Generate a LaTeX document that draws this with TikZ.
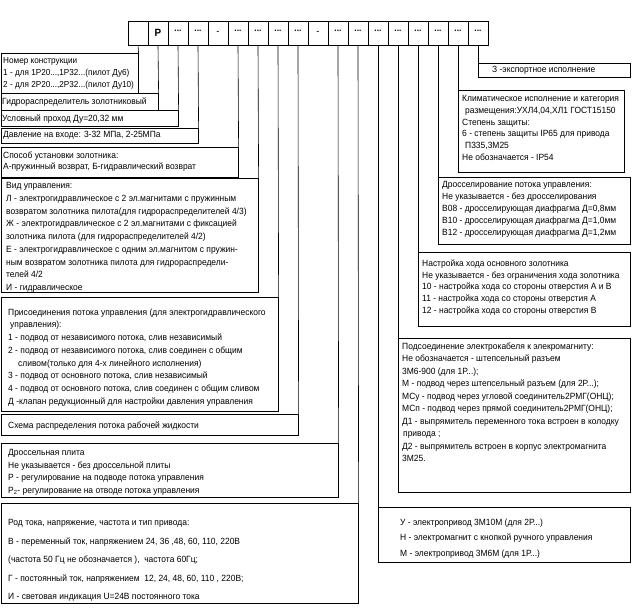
\documentclass[tikz,border=0pt]{standalone}
\usepackage{fontspec}
\setmainfont{Liberation Sans}[FakeStretch=0.94]
\usetikzlibrary{shadows}
\newcommand{\myfs}[1]{\fontsize{9}{#1}\selectfont}
\tikzset{
  cellbox/.style={draw, line width=0.6pt, minimum width=20pt, minimum height=24pt, inner sep=0pt, fill=white,
    drop shadow={shadow xshift=1pt, shadow yshift=-1pt, fill=gray!55, opacity=1}},
  box/.style={draw, line width=0.6pt, fill=white, inner sep=0pt, anchor=north west,
    drop shadow={shadow xshift=1pt, shadow yshift=-1pt, fill=gray!55, opacity=1}},
  txt/.style={anchor=north west, inner sep=0pt, align=left},
  conn/.style={line width=0.6pt},
  dots/.style={font=\fontsize{9}{9}\selectfont\bfseries}
}
\begin{document}
\begin{tikzpicture}[x=1pt, y=-1pt]
\useasboundingbox (0,0) rectangle (640,610);
% top code cells
\foreach \k in {1,...,18} {
  \node[cellbox] (c\k) at (118+20*\k, 33) {};
}
\node (p) at (c2) {\fontsize{10.5}{10.5}\selectfont\bfseries Р};
\foreach \k in {3,4,6,7,8,9,11,12,13,14,15,16,17,18} {
  \node[dots] (d\k) at ([yshift=2pt]c\k.center) {...};
}
\node (m5) at (c5) {-};
\node (m10) at (c10) {-};

% left boxes
\node[box, minimum width=137pt, minimum height=40pt] (b1) at (1,53) {};
\node[box, minimum width=157pt, minimum height=17pt] (b2) at (1,93) {};
\node[box, minimum width=177pt, minimum height=16pt] (b3) at (1,110) {};
\node[box, minimum width=197pt, minimum height=15pt] (b4) at (1,128) {};
\node[box, minimum width=237pt, minimum height=30pt] (b5) at (1,147) {};
\node[box, minimum width=257pt, minimum height=114pt] (b6) at (1,178) {};
\node[box, minimum width=277pt, minimum height=114pt] (b7) at (1,297) {};
\node[box, minimum width=297pt, minimum height=21pt] (b8) at (1,414) {};
\node[box, minimum width=337pt, minimum height=54pt] (b9) at (1,443) {};
\node[box, minimum width=357pt, minimum height=100pt] (b10) at (1,503) {};

% right boxes
\node[box, minimum width=152pt, minimum height=14pt] (r1) at (478,63) {};
\node[box, minimum width=166pt, minimum height=82pt] (r2) at (458,90) {};
\node[box, minimum width=192pt, minimum height=67pt] (r3) at (438,177) {};
\node[box, minimum width=212pt, minimum height=74pt] (r4) at (418,252) {};
\node[box, minimum width=232pt, minimum height=154pt] (r5) at (398,338) {};
\node[box, minimum width=252pt, minimum height=55pt] (r6) at (378,507) {};

% connectors
\draw[conn] (c1.south) -- (b1.north east);
\draw[conn] (c2.south) -- (b2.north east);
\draw[conn] (c3.south) -- (b3.north east);
\draw[conn] (c4.south) -- (b4.north east);
\draw[conn] (c6.south) -- (b5.north east);
\draw[conn] (c7.south) -- (b6.north east);
\draw[conn] (c8.south) -- (b7.north east);
\draw[conn] (c9.south) -- (b8.north east);
\draw[conn] (c11.south) -- (b9.north east);
\draw[conn] (c12.south) -- (b10.north east);
\draw[conn] (c13.south) -- (r6.north west);
\draw[conn] (c14.south) -- (r5.north west);
\draw[conn] (c15.south) -- (r4.north west);
\draw[conn] (c16.south) -- (r3.north west);
\draw[conn] (c17.south) -- (r2.north west);
\draw[conn] (c18.south) -- (r1.north west);

% texts
\node[txt, font=\fontsize{8.7}{12}\selectfont] (t1) at (3,57) {Номер конструкции\\1 - для 1Р20...,1Р32...(пилот Ду6)\\2 - для 2Р20...,2Р32...(пилот Ду10)};
\node[txt, font=\myfs{12}] (t2) at (2,98) {Гидрораспределитель золотниковый};
\node[txt, font=\myfs{12}] (t3) at (2,114.5) {Условный проход Ду=20,32 мм};
\node[txt, font=\myfs{12}] (t4) at (3,131.5) {Давление на входе: 3-32 МПа, 2-25МПа};
\node[txt, font=\myfs{11.5}] (t5) at (3,151.5) {Способ установки золотника:\\А-пружинный возврат, Б-гидравлический возврат};
\node[txt, font=\myfs{12.7}] (t6) at (6,182.5) {Вид управления:\\Л - электрогидравлическое с 2 эл.магнитами с пружинным\\возвратом золотника пилота(для гидрораспределителей 4/3)\\Ж - электрогидравлическое с 2 эл.магнитами с фиксацией\\золотника пилота (для гидрораспределителей 4/2)\\Е - электрогидравлическое с одним эл.магнитом с пружин-\\ным возвратом золотника пилота для гидрораспредели-\\телей 4/2\\И - гидравлическое};
\node[txt, font=\myfs{12.7}] (t7) at (8,308.5) {Присоединения потока управления (для электрогидравлического\\\hspace{2pt}управления):\\1 - подвод от независимого потока, слив независимый\\2 - подвод от независимого потока, слив соединен с общим\\\hspace{10pt}сливом(только для 4-х линейного исполнения)\\3 - подвод от основного потока, слив независимый\\4 - подвод от основного потока, слив соединен с общим сливом\\Д -клапан редукционный для настройки давления управления};
\node[txt, font=\myfs{12}] (t8) at (8,421.5) {Схема распределения потока рабочей жидкости};
\node[txt, font=\myfs{12.5}] (t9) at (8,449.5) {Дроссельная плита\\Не указывается - без дроссельной плиты\\Р - регулирование на подводе потока управления\\Р\textsubscript{2}- регулирование на отводе потока управления};
\node[txt, font=\myfs{18.4}] (t10) at (8,519.5) {Род тока, напряжение, частота и тип привода:\\В - переменный ток, напряжением 24, 36 ,48, 60, 110, 220В\\(частота 50 Гц не обозначается ),\ \ частота 60Гц;\\Г - постоянный ток, напряжением\ \ 12, 24, 48, 60, 110 , 220В;\\И - световая индикация U=24В постоянного тока};

\node[txt, font=\myfs{12}] (u1) at (492,66.5) {З -экспортное исполнение};
\node[txt, font=\myfs{11.7}] (u2) at (462,95.5) {Климатическое исполнение и категория\\\hspace{3pt}размещения:УХЛ4,04,ХЛ1 ГОСТ15150\\Степень защиты:\\6 - степень защиты IP65 для привода\\\hspace{3pt}П335,3М25\\Не обозначается - IP54};
\node[txt, font=\myfs{11.8}] (u3) at (442,181.5) {Дросселирование потока управления:\\Не указывается - без дросселирования\\В08 - дросселирующая диафрагма Д=0,8мм\\В10 - дросселирующая диафрагма Д=1,0мм\\В12 - дросселирующая диафрагма Д=1,2мм};
\node[txt, font=\myfs{11.8}] (u4) at (422,259.5) {Настройка хода основного золотника\\Не указывается - без ограничения хода золотника\\10 - настройка хода со стороны отверстия А и В\\11 - настройка хода со стороны отверстия А\\12 - настройка хода со стороны отверстия В};
\node[txt, font=\myfs{12.5}] (u5) at (402,342.5) {Подсоединение электрокабеля к элекромагниту:\\Не обозначается - штепсельный разъем\\3М6-900 (для 1Р...);\\М - подвод через штепсельный разъем (для 2Р...);\\МСу - подвод через угловой соединитель2РМГ(ОНЦ);\\МСп - подвод через прямой соединитель2РМГ(ОНЦ);\\Д1 - выпрямитель переменного тока встроен в колодку\\\hspace{1pt}привода ;\\Д2 - выпрямитель встроен в корпус электромагнита\\3М25.};
\node[txt, font=\myfs{15.5}] (u6) at (400,518.5) {У - электропривод 3М10М (для 2Р...)\\Н - электромагнит с кнопкой ручного управления\\М - электропривод 3М6М (для 1Р...)};
\end{tikzpicture}
\end{document}
